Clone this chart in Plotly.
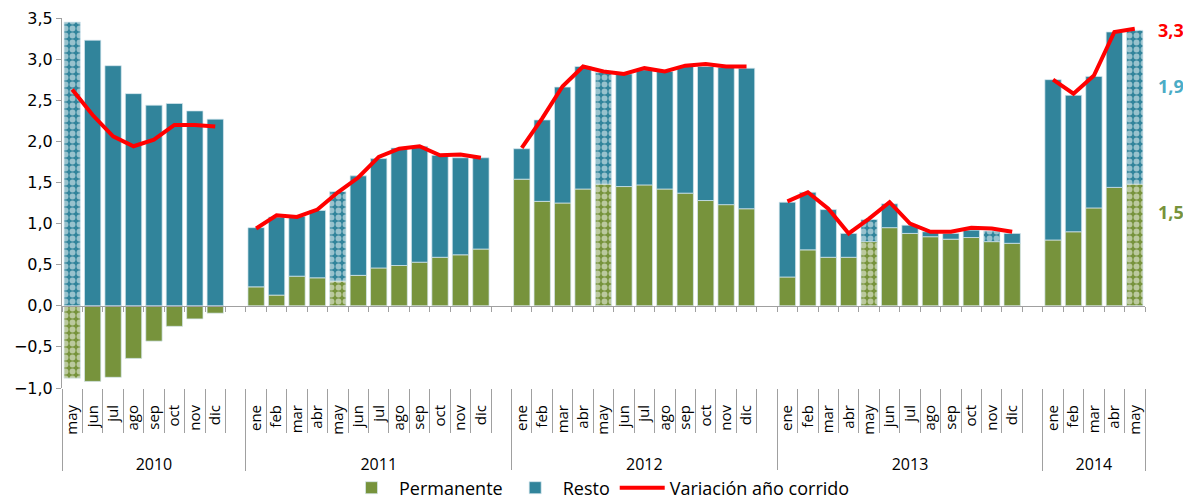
import plotly.graph_objects as go

# ---------------- data ----------------
years = ["2010", "2011", "2012", "2013", "2014"]

months_2010 = ["may", "jun", "jul", "ago", "sep", "oct", "nov", "dic"]
months_full = ["ene", "feb", "mar", "abr", "may", "jun", "jul", "ago", "sep", "oct", "nov", "dic"]
months_2014 = ["ene", "feb", "mar", "abr", "may"]

permanente_2010 = [-0.88, -0.92, -0.87, -0.64, -0.43, -0.25, -0.16, -0.09]
resto_2010 = [3.45, 3.23, 2.92, 2.58, 2.44, 2.46, 2.37, 2.27]
variacion_2010 = [2.63, 2.32, 2.06, 1.94, 2.02, 2.20, 2.20, 2.18]

permanente_2011 = [0.23, 0.13, 0.36, 0.34, 0.30, 0.37, 0.46, 0.49, 0.53, 0.59, 0.62, 0.69]
resto_2011 = [0.72, 0.95, 0.73, 0.82, 1.09, 1.21, 1.33, 1.43, 1.41, 1.24, 1.18, 1.11]
variacion_2011 = [0.94, 1.10, 1.08, 1.17, 1.38, 1.56, 1.81, 1.91, 1.94, 1.83, 1.84, 1.80]

permanente_2012 = [1.54, 1.27, 1.25, 1.42, 1.48, 1.45, 1.47, 1.42, 1.37, 1.28, 1.23, 1.18]
resto_2012 = [0.37, 0.99, 1.41, 1.49, 1.36, 1.37, 1.40, 1.43, 1.54, 1.63, 1.67, 1.71]
variacion_2012 = [1.92, 2.28, 2.67, 2.91, 2.85, 2.82, 2.89, 2.85, 2.92, 2.94, 2.91, 2.91]

permanente_2013 = [0.35, 0.68, 0.59, 0.59, 0.78, 0.95, 0.88, 0.84, 0.81, 0.83, 0.78, 0.76]
resto_2013 = [0.91, 0.70, 0.58, 0.29, 0.27, 0.29, 0.10, 0.06, 0.07, 0.09, 0.13, 0.12]
variacion_2013 = [1.27, 1.38, 1.18, 0.88, 1.06, 1.26, 1.00, 0.90, 0.90, 0.95, 0.94, 0.90]

permanente_2014 = [0.80, 0.90, 1.19, 1.44, 1.48]
resto_2014 = [1.95, 1.66, 1.60, 1.89, 1.87]
variacion_2014 = [2.75, 2.58, 2.80, 3.33, 3.37]

# months drawn with a dotted (hatched) fill
hatched_permanente = [("2010", "may"), ("2011", "may"), ("2012", "may"), ("2013", "may"), ("2014", "may")]
hatched_resto = hatched_permanente + [("2013", "nov")]

right_labels = ["3,3", "1,9", "1,5"]

# ---------------- assemble ----------------
months = {"2010": months_2010, "2011": months_full, "2012": months_full,
          "2013": months_full, "2014": months_2014}
perm = {"2010": permanente_2010, "2011": permanente_2011, "2012": permanente_2012,
        "2013": permanente_2013, "2014": permanente_2014}
rest = {"2010": resto_2010, "2011": resto_2011, "2012": resto_2012,
        "2013": resto_2013, "2014": resto_2014}
var = {"2010": variacion_2010, "2011": variacion_2011, "2012": variacion_2012,
       "2013": variacion_2013, "2014": variacion_2014}

GREEN = "#77933C"
TEAL = "#31849B"
RED = "#FF0000"
AXIS = "#A0A0A0"

xs, mlabels = [], []
p_solid, p_hatch, r_solid, r_hatch = [], [], [], []
line_x, line_y = [], []
year_centers, year_bounds = [], [-0.5]
pos = 0
for yi, yr in enumerate(years):
    for m, pv, rv, vv in zip(months[yr], perm[yr], rest[yr], var[yr]):
        xs.append(pos)
        mlabels.append(m)
        hp = (yr, m) in hatched_permanente
        hr = (yr, m) in hatched_resto
        p_solid.append(None if hp else pv)
        p_hatch.append(pv if hp else None)
        r_solid.append(None if hr else rv)
        r_hatch.append(rv if hr else None)
        line_x.append(pos)
        line_y.append(vv)
        pos += 1
    if yi < len(years) - 1:
        line_x.append(pos)
        line_y.append(None)
        pos += 1  # empty slot between years
    year_bounds.append(pos - 0.5)
    year_centers.append((year_bounds[-2] + year_bounds[-1]) / 2)

xmax = pos - 0.5
month_bounds = [b - 0.5 for b in range(0, pos + 1)]

line_edge = dict(color="rgba(215,232,238,0.9)", width=0.8)
pattern_kw = dict(shape=".", size=7, solidity=0.55, fgcolor="white")

fig = go.Figure()
fig.add_trace(go.Bar(x=xs, y=p_solid, name="Permanente", legendgroup="p",
                     marker=dict(color=GREEN, line=line_edge)))
fig.add_trace(go.Bar(x=xs, y=p_hatch, name="Permanente", legendgroup="p", showlegend=False,
                     marker=dict(color=GREEN, line=line_edge,
                                 pattern=dict(bgcolor=GREEN, **pattern_kw))))
fig.add_trace(go.Bar(x=xs, y=r_solid, name="Resto", legendgroup="r",
                     marker=dict(color=TEAL, line=line_edge)))
fig.add_trace(go.Bar(x=xs, y=r_hatch, name="Resto", legendgroup="r", showlegend=False,
                     marker=dict(color=TEAL, line=line_edge,
                                 pattern=dict(bgcolor=TEAL, **pattern_kw))))
fig.add_trace(go.Scatter(x=line_x, y=line_y, mode="lines", name="Variación año corrido",
                         line=dict(color=RED, width=4), connectgaps=False))
# helper traces so the extra axes are drawn
fig.add_trace(go.Scatter(x=[None], y=[None], xaxis="x2", showlegend=False, hoverinfo="skip"))
fig.add_trace(go.Scatter(x=[None], y=[None], xaxis="x3", showlegend=False, hoverinfo="skip"))

ymin, ymax = -1.0, 3.5
month_font = dict(family="Open Sans", size=15, color="#000000")

W, H = 1183, 491  # page body adds an 8px margin
fig.update_layout(
    width=W, height=H,
    margin=dict(l=54, r=46, t=10, b=111, autoexpand=False),
    paper_bgcolor="white", plot_bgcolor="white",
    barmode="relative", bargap=0.2,
    separators=", ",
    showlegend=True,
    legend=dict(orientation="h", x=0.5, xanchor="center", xref="container",
                y=1 - 480 / H, yanchor="middle", yref="container",
                font=dict(family="Open Sans", size=18, color="#000000"),
                itemwidth=45, traceorder="normal"),
    xaxis=dict(range=[-0.5, xmax], showgrid=False, zeroline=False, showline=False,
               automargin=False,
               tickmode="array", tickvals=xs, ticktext=mlabels, tickangle=-90,
               ticks="outside", ticklen=10, tickcolor="rgba(0,0,0,0)",
               tickfont=month_font,
               minor=dict(tickmode="array", tickvals=month_bounds, ticks="outside",
                          ticklen=44, tickcolor=AXIS, tickwidth=1, showgrid=False)),
    xaxis2=dict(range=[-0.5, xmax], overlaying="x", anchor="free",
                position=(0 - ymin) / (ymax - ymin), automargin=False,
                showgrid=False, zeroline=False, showline=True, linecolor=AXIS, linewidth=1,
                tickmode="array", tickvals=month_bounds, ticks="outside", ticklen=5,
                tickcolor=AXIS, showticklabels=False),
    xaxis3=dict(range=[-0.5, xmax], overlaying="x", anchor="y", side="bottom",
                automargin=False,
                showgrid=False, zeroline=False, showline=False,
                tickmode="array", tickvals=year_centers, ticktext=years,
                ticks="outside", ticklen=62, tickcolor="rgba(0,0,0,0)",
                tickfont=dict(family="Open Sans", size=16, color="#000000"),
                minor=dict(tickmode="array", tickvals=year_bounds, ticks="outside",
                           ticklen=82, tickcolor=AXIS, tickwidth=1, showgrid=False)),
    yaxis=dict(range=[ymin, ymax], dtick=0.5, tick0=0, tickformat=".1f", automargin=False,
               showgrid=False, zeroline=False, showline=True, linecolor=AXIS, linewidth=1,
               ticks="outside", ticklen=5, tickcolor=AXIS,
               tickfont=dict(family="DejaVu Sans", size=16, color="#000000")),
)

label_colors = [RED, "#4BACC6", GREEN]
label_ys = [3.35, 2.67, 1.14]
for txt, col, yv in zip(right_labels, label_colors, label_ys):
    fig.add_annotation(text="<b>" + txt + "</b>", x=1.0, xref="paper", xanchor="left", xshift=11,
                       y=yv, yref="y", showarrow=False,
                       font=dict(family="Open Sans", size=18, color=col))

fig.write_html("out.html")
